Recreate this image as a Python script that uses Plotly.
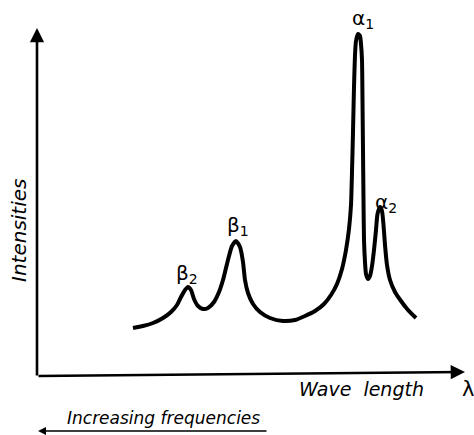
import plotly.graph_objects as go

# Spectrum (arbitrary units): wavelength vs intensity
wavelength = [96, 106, 116, 126, 134, 140, 144, 148, 151, 154, 157, 161, 166, 171, 177, 182, 186, 189, 192, 195,
              199, 203, 206, 208, 211, 216, 223, 233, 246, 258, 268, 278, 287, 294, 300, 305, 309, 312, 314, 315,
              316, 317, 318, 319, 321, 323, 324, 325, 325.5, 326, 326.5, 327, 328, 329, 331, 333, 335, 337, 339,
              340.5, 343, 345, 346.5, 348, 350, 353, 358, 364, 371, 379]
intensity = [49, 51, 54, 59, 65, 72, 80, 87, 90, 87, 78, 71, 68, 69, 75, 85, 97, 109, 121, 131,
             136, 130, 115, 97, 84, 73, 65, 59, 56, 57, 61, 66, 73, 82, 93, 108, 127, 148, 172, 205,
             245, 290, 322, 336, 343, 341, 333, 317, 277, 227, 177, 137, 115, 103, 98, 101, 111, 127, 147,
             163, 170, 166, 152, 132, 112, 97, 85, 76, 67, 59]

# Line labels
peak_labels = ["α<sub>1</sub>", "α<sub>2</sub>", "β<sub>1</sub>", "β<sub>2</sub>"]
peak_label_x = [326, 349, 201, 150]
peak_label_y = [358, 174, 151, 103]

# Axes (drawn as arrows)
axis_x_end = [0, 428]
axis_y_end = [0, 5]
axis_v_top = 349

fig = go.Figure()
fig.add_trace(go.Scatter(x=wavelength, y=intensity, mode="lines",
                         line=dict(color="black", width=4, shape="spline", smoothing=0.6),
                         hoverinfo="skip", showlegend=False))

ann = []
# vertical axis arrow
ann.append(dict(x=0, y=axis_v_top, ax=0, ay=0, xref="x", yref="y", axref="x", ayref="y",
                showarrow=True, arrowhead=2, arrowsize=1.1, arrowwidth=2.6, arrowcolor="black", text=""))
# horizontal axis arrow
ann.append(dict(x=axis_x_end[1], y=axis_y_end[1], ax=axis_x_end[0], ay=axis_y_end[0] + 1,
                xref="x", yref="y", axref="x", ayref="y",
                showarrow=True, arrowhead=2, arrowsize=1.1, arrowwidth=2.6, arrowcolor="black", text=""))
# increasing frequencies arrow
ann.append(dict(x=1, y=-54, ax=231, ay=-54, xref="x", yref="y", axref="x", ayref="y",
                showarrow=True, arrowhead=2, arrowsize=1.0, arrowwidth=1.6, arrowcolor="black", text=""))

font_lab = dict(family="DejaVu Sans", size=19, color="black")
ann.append(dict(x=-18, y=147, xref="x", yref="y", text="<i>Intensities</i>", textangle=-90,
                showarrow=False, font=dict(family="DejaVu Sans", size=20, color="black")))
ann.append(dict(x=324, y=-12, xref="x", yref="y", text="<i>Wave  length</i>",
                showarrow=False, font=font_lab))
ann.append(dict(x=431, y=-12, xref="x", yref="y", text="λ",
                showarrow=False, font=dict(family="DejaVu Sans", size=21, color="black")))
ann.append(dict(x=126, y=-41, xref="x", yref="y", text="<i>Increasing frequencies</i>",
                showarrow=False, font=dict(family="DejaVu Sans", size=17, color="black")))

for t, x, y in zip(peak_labels, peak_label_x, peak_label_y):
    ann.append(dict(x=x, y=y, xref="x", yref="y", text=t, showarrow=False,
                    font=dict(family="DejaVu Sans", size=20, color="black")))

fig.update_layout(
    width=474, height=435, margin=dict(l=0, r=0, t=0, b=0),
    paper_bgcolor="white", plot_bgcolor="white",
    xaxis=dict(range=[-37, 437], visible=False, fixedrange=True),
    yaxis=dict(range=[-58, 377], visible=False, fixedrange=True),
    annotations=ann, showlegend=False,
)
fig.write_html("out.html")
